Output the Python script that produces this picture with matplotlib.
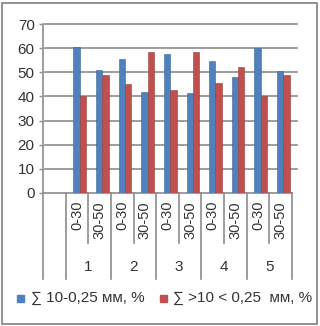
import numpy as np
import matplotlib.pyplot as plt
from matplotlib.patches import Rectangle
from matplotlib.transforms import blended_transform_factory

plt.rcParams['font.family'] = ['Liberation Sans', 'DejaVu Sans']

# Data
groups = ["1", "2", "3", "4", "5"]
depths = ["0-30", "30-50"]
fine = [60.5, 51, 55.5, 42, 57.5, 41.5, 54.5, 48, 60, 50.5]
coarse = [40, 49, 45, 58.5, 42.5, 58.5, 45.5, 52, 40, 49]
series_names = ["∑ 10-0,25 мм, %", "∑ >10 < 0,25  мм, %"]

blue = "#4F81BD"
red = "#C0504D"
grey = "#8C8C8C"

W, H = 320, 326
fig = plt.figure(figsize=(W / 100, H / 100), dpi=100)

# axes placed in pixel coordinates
left, right, top, bottom = 43, 292, 24, 193
ax = fig.add_axes([left / W, 1 - bottom / H, (right - left) / W, (bottom - top) / H])

n = len(fine)
x = np.arange(n) + 1  # slot 0 is an empty category
bw = 0.28
ax.bar(x - bw / 2 + 0.12, fine, bw, color=blue, edgecolor="#3A6699", linewidth=0.4, zorder=3)
ax.bar(x + bw / 2 + 0.12, coarse, bw, color=red, edgecolor="#9A3B38", linewidth=0.4, zorder=3)

ax.set_xlim(-0.5, n + 0.5)
ax.set_ylim(0, 70)
ax.set_yticks(range(0, 71, 10))
ax.tick_params(axis='y', labelsize=11, color=grey, length=3, width=1, pad=3, labelcolor="#333333")
ax.set_xticks([])

for s in ["top", "right"]:
    ax.spines[s].set_visible(False)
for s in ["left", "bottom"]:
    ax.spines[s].set_color(grey)
    ax.spines[s].set_linewidth(1.2)

for v in range(10, 71, 10):
    ax.axhline(v, xmin=0.01, xmax=1.02, color=grey, lw=1.2, zorder=1, clip_on=False)

# category axis lines below the plot
tr = blended_transform_factory(ax.transData, ax.transAxes)
ph = bottom - top
short = -(243 - bottom) / ph
long = -(279 - bottom) / ph
ax.plot([-0.5, -0.5], [0, long], color=grey, lw=1.2, transform=tr, clip_on=False)
for g in range(len(groups) + 1):
    xb = 0.5 + 2 * g
    ax.plot([xb, xb], [0, long], color=grey, lw=1.2, transform=tr, clip_on=False)
for g in range(len(groups)):
    xm = 1.5 + 2 * g
    ax.plot([xm, xm], [0, short], color=grey, lw=1.2, transform=tr, clip_on=False)

lab_y = -(201 - bottom) / ph
grp_y = -(267 - bottom) / ph
for i in range(n):
    ax.text(x[i], lab_y, depths[i % 2], rotation=90, ha='center', va='top',
            fontsize=10.5, color="#333333", transform=tr)
for g, name in enumerate(groups):
    ax.text(1.5 + 2 * g, grp_y, name, ha='center', va='center',
            fontsize=11, color="#333333", transform=tr)

# legend
ly = 1 - 298 / H
fig.patches.append(Rectangle((17 / W, ly - 3.5 / H), 6.5 / W, 7 / H, color=blue, transform=fig.transFigure))
fig.text(31 / W, ly, series_names[0], ha='left', va='center', fontsize=11, color="#333333")
fig.patches.append(Rectangle((160 / W, ly - 3.5 / H), 6.5 / W, 7 / H, color=red, transform=fig.transFigure))
fig.text(173 / W, ly, series_names[1], ha='left', va='center', fontsize=11, color="#333333")

# outer frame
fig.patches.append(Rectangle((2 / W, 2 / H), 315 / W, 321 / H, fill=False,
                             edgecolor="#7F7F7F", lw=1.2, transform=fig.transFigure))

fig.savefig("out.png", dpi=100)
